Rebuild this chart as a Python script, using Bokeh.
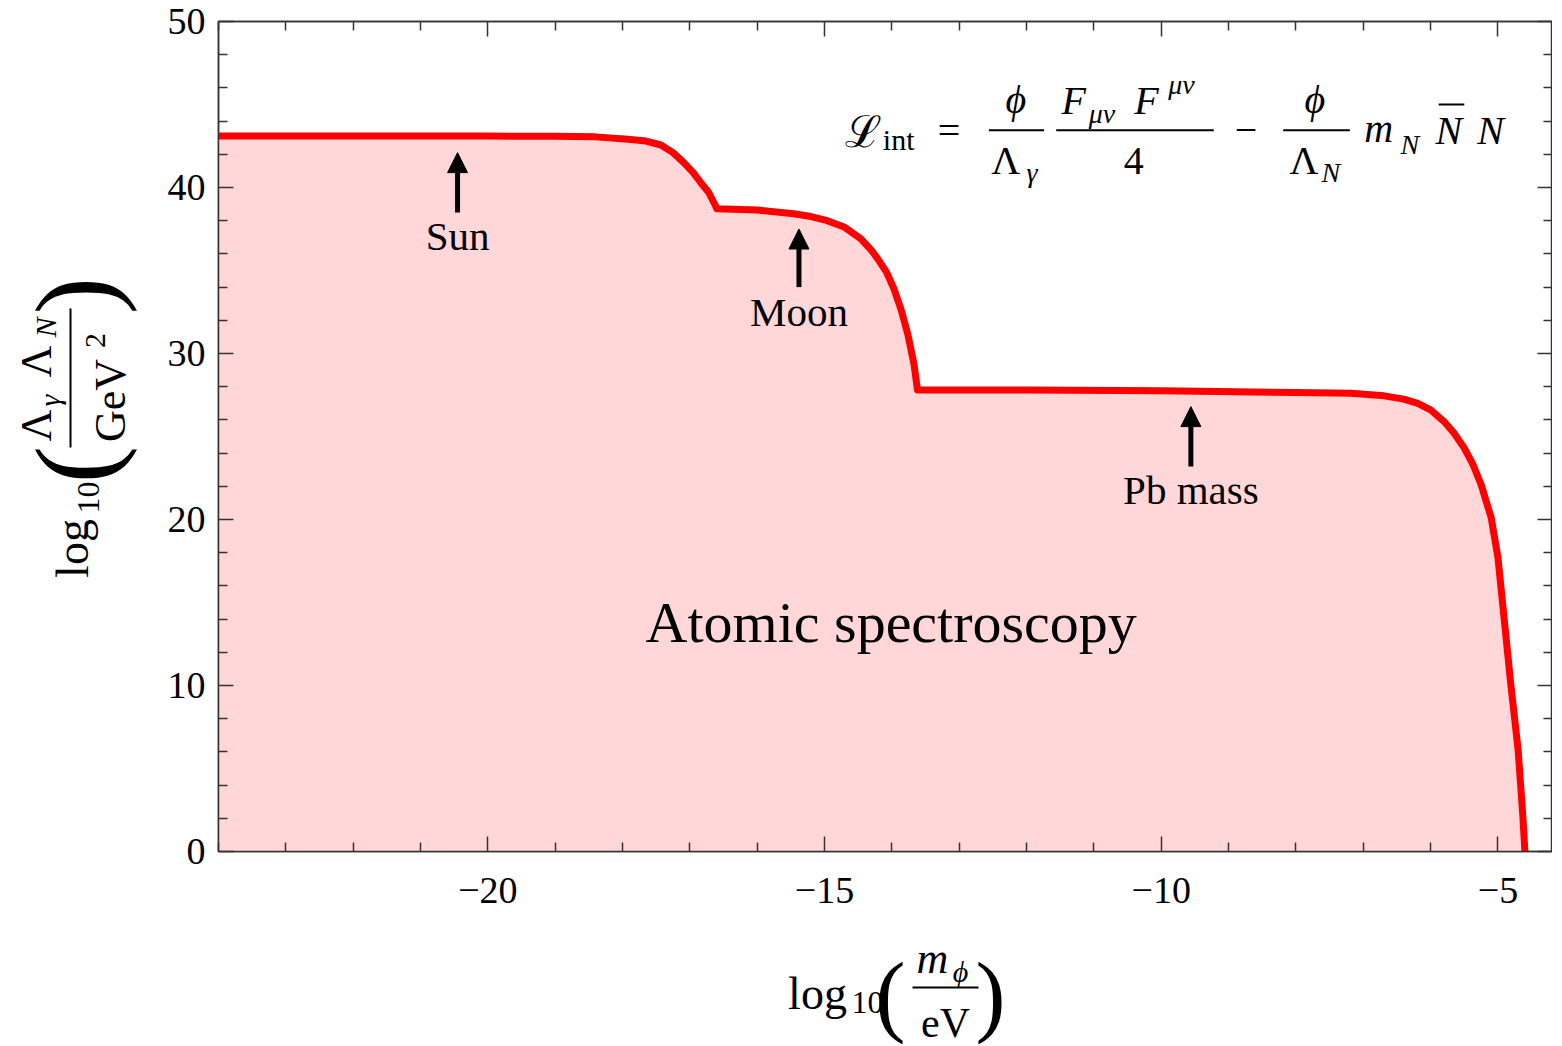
import math
from bokeh.plotting import figure
from bokeh.layouts import row, column
from bokeh.models import LinearAxis, Range1d, Label, Arrow, NormalHead, FixedTicker, ColumnDataSource
from bokeh.embed import file_html
from bokeh.resources import INLINE

# ---------------- data ----------------
log_m = [-24.0, -22.0, -20.0, -19.0, -18.4, -17.92, -17.65, -17.43, -17.25, -17.09, -16.95,
         -16.84, -16.72, -16.62, -16.6, -16.0, -15.46, -15.2, -14.96, -14.7, -14.46, -14.3,
         -14.21, -14.08, -13.97, -13.86, -13.76, -13.67, -13.62, -12.0, -10.0, -8.0, -7.18,
         -6.69, -6.4, -6.19, -6.0, -5.8, -5.65, -5.5, -5.37, -5.25, -5.1, -5.0, -4.91, -4.81,
         -4.70, -4.63, -4.60]
log_L = [43.1, 43.1, 43.1, 43.08, 43.05, 42.9, 42.8, 42.56, 42.1, 41.5, 40.9,
         40.3, 39.7, 38.9, 38.72, 38.65, 38.42, 38.25, 38.0, 37.6, 36.9, 36.2,
         35.7, 34.9, 33.9, 32.6, 31.1, 29.3, 27.8, 27.8, 27.75, 27.65, 27.6,
         27.45, 27.25, 27.0, 26.6, 25.9, 25.2, 24.3, 23.3, 22.1, 20.1, 17.7, 14.1, 10.1,
         6.1, 2.1, 0.0]

x_ticks = [-20, -15, -10, -5]
y_ticks = [0, 10, 20, 30, 40, 50]

ann_names = ["Sun", "Moon", "Pb mass"]
ann_x = [-20.45, -15.38, -9.56]
ann_tip = [42.1, 37.5, 26.8]
ann_tail = [38.5, 34.0, 23.2]
ann_text_y = [37.1, 32.5, 21.8]

region_label = "Atomic spectroscopy"

FONT = "Liberation Serif"
AX = "#333333"

# ---------------- geometry ----------------
YLAB_W = 150
MAIN_BL = 68
FRAME_W = 1334
FRAME_H = 830
MAIN_BT = 21
MAIN_BB = 80
MAIN_H = MAIN_BT + FRAME_H + MAIN_BB          # 931
TOTAL_W = YLAB_W + MAIN_BL + FRAME_W + 2
XLAB_H = 113

p = figure(frame_width=FRAME_W, frame_height=FRAME_H, output_backend="svg", toolbar_location=None,
           title_location=None,
           x_range=Range1d(-24, -4.19), y_range=Range1d(0, 50),
           min_border_left=MAIN_BL, min_border_top=MAIN_BT, min_border_bottom=MAIN_BB,
           min_border_right=0, background_fill_color="white", border_fill_color="white")
p.xgrid.visible = False
p.ygrid.visible = False
p.outline_line_color = AX
p.outline_line_width = 1.5

src = ColumnDataSource(dict(x=log_m, y=log_L, y0=[0.0] * len(log_m)))
p.varea(x="x", y1="y0", y2="y", source=src, fill_color="#ffd7d9")
p.line(x="x", y="y", source=src, line_color="#ff0000", line_width=7, line_join="round")


def style_axis(ax, ticks, minor, labels=True):
    ax.ticker = FixedTicker(ticks=ticks, minor_ticks=minor)
    ax.axis_line_color = AX
    ax.axis_line_width = 1.5
    ax.major_tick_line_color = AX
    ax.major_tick_line_width = 1.5
    ax.minor_tick_line_color = AX
    ax.minor_tick_line_width = 1.5
    ax.major_tick_in = 15
    ax.major_tick_out = 0
    ax.minor_tick_in = 9
    ax.minor_tick_out = 0
    ax.major_label_text_font = FONT
    ax.major_label_text_color = "black"
    ax.major_label_text_font_size = "38px"
    if labels:
        ax.major_label_overrides = {t: ("\u2212" + str(abs(t)) if t < 0 else str(t)) for t in ticks}
    else:
        ax.major_label_overrides = {t: "" for t in ticks}
        ax.major_label_standoff = 0


x_minor = [v for v in range(-24, -4) if v % 5 != 0]
y_minor = [v for v in range(0, 51, 2) if v % 10 != 0]

style_axis(p.xaxis[0], x_ticks, x_minor)
p.xaxis[0].major_label_standoff = 26
style_axis(p.yaxis[0], y_ticks, y_minor)
p.yaxis[0].major_label_standoff = 13

top = LinearAxis()
right = LinearAxis()
p.add_layout(top, "above")
p.add_layout(right, "right")
style_axis(top, x_ticks, x_minor, labels=False)
style_axis(right, y_ticks, y_minor, labels=False)

# ---------- annotations: arrows and labels ----------
for nm, xv, tip, tail, ty in zip(ann_names, ann_x, ann_tip, ann_tail, ann_text_y):
    p.add_layout(Arrow(end=NormalHead(size=20, fill_color="black", line_color="black", line_width=1),
                       x_start=xv, y_start=tail, x_end=xv, y_end=tip,
                       line_color="black", line_width=5))
    p.add_layout(Label(x=xv, y=ty, text=nm, text_font=FONT, text_font_size="41px",
                       text_align="center", text_baseline="middle", text_color="black"))

p.add_layout(Label(x=-14.01, y=13.8, text=region_label, text_font=FONT, text_font_size="58px",
                   text_align="center", text_baseline="middle", text_color="black"))


def lab(fig, x, y, t, size, italic=False, angle=0.0, baseline="middle", align="center", font=FONT):
    fig.add_layout(Label(x=x, y=y, text=t, text_font=font, text_font_size=f"{size}px",
                         text_font_style="italic" if italic else "normal", angle=angle,
                         text_align=align, text_baseline=baseline, text_color="black"))


def seg(fig, x0, x1, y0, y1, w=2):
    fig.segment(x0=[x0], x1=[x1], y0=[y0], y1=[y1], line_color="black", line_width=w)


# ---------- formula (inside the frame, data units) ----------
lab(p, -14.42, 43.35, "\u2112", 44, font="DejaVu Serif")
lab(p, -13.90, 42.9, "int", 30)
lab(p, -13.15, 43.45, "=", 40)
lab(p, -12.16, 45.3, "\u03d5", 40, italic=True)
seg(p, -12.56, -11.74, 43.45, 43.45)
lab(p, -12.31, 41.6, "\u039b", 40)
lab(p, -11.92, 40.9, "\u03b3", 28, italic=True)
lab(p, -11.30, 45.25, "F", 40, italic=True)
lab(p, -10.88, 44.45, "\u03bc\u03bd", 28, italic=True)
lab(p, -10.22, 45.25, "F", 40, italic=True)
lab(p, -9.70, 46.2, "\u03bc\u03bd", 28, italic=True)
seg(p, -11.56, -9.22, 43.45, 43.45)
lab(p, -10.41, 41.6, "4", 40)
lab(p, -8.74, 43.45, "\u2212", 40)
lab(p, -7.72, 45.3, "\u03d5", 40, italic=True)
seg(p, -8.19, -7.20, 43.45, 43.45)
lab(p, -7.88, 41.6, "\u039b", 40)
lab(p, -7.48, 40.9, "N", 28, italic=True)
lab(p, -6.77, 43.55, "m", 40, italic=True)
lab(p, -6.31, 42.6, "N", 28, italic=True)
lab(p, -5.73, 43.45, "N", 40, italic=True)
seg(p, -5.88, -5.50, 45.0, 45.0)
lab(p, -5.11, 43.45, "N", 40, italic=True)


def blank_fig(fw, fh, y0, y1, bt=0, bb=0):
    f = figure(frame_width=fw, frame_height=fh, x_range=Range1d(0, fw), y_range=Range1d(y0, y1),
               output_backend="svg", toolbar_location=None, title_location=None,
               x_axis_location=None, y_axis_location=None,
               min_border_left=0, min_border_right=0,
               min_border_top=bt, min_border_bottom=bb,
               background_fill_color="white", border_fill_color="white")
    f.outline_line_color = None
    f.grid.visible = False
    return f


# ---------- y axis label (rotated): data y = MAIN_H - page y ----------
H = MAIN_H
ylab = blank_fig(YLAB_W, FRAME_H, H - (MAIN_BT + FRAME_H), H - MAIN_BT, bt=MAIN_BT, bb=MAIN_BB)
A = math.pi / 2
lab(ylab, 72, H - 548, "log", 46, angle=A)
lab(ylab, 88, H - 497, "10", 32, angle=A)
lab(ylab, 74, H - 464, "(", 112, angle=A)
lab(ylab, 36, H - 425, "\u039b", 44, angle=A)
lab(ylab, 49, H - 400, "\u03b3", 30, italic=True, angle=A)
lab(ylab, 36, H - 361, "\u039b", 44, angle=A)
lab(ylab, 45, H - 327, "N", 30, italic=True, angle=A)
seg(ylab, 70, 70, H - 447, H - 308)
lab(ylab, 110, H - 400, "GeV", 44, angle=A)
lab(ylab, 95, H - 340, "2", 30, angle=A)
lab(ylab, 74, H - 295, ")", 112, angle=A)

# ---------- x axis label: data y = B - page y ----------
B = MAIN_H + XLAB_H
xlab = blank_fig(TOTAL_W, XLAB_H, 0, XLAB_H)
lab(xlab, 817, B - 993, "log", 46)
lab(xlab, 867, B - 1002, "10", 32)
lab(xlab, 890, B - 994, "(", 90)
lab(xlab, 932, B - 958, "m", 44, italic=True)
lab(xlab, 960, B - 971, "\u03d5", 30, italic=True)
seg(xlab, 912, 978, B - 987, B - 987)
lab(xlab, 945, B - 1022, "eV", 42)
lab(xlab, 990, B - 994, ")", 90)

layout = column(row(ylab, p, spacing=0), xlab, spacing=0)

open("out.html", "w").write(file_html(layout, INLINE))
